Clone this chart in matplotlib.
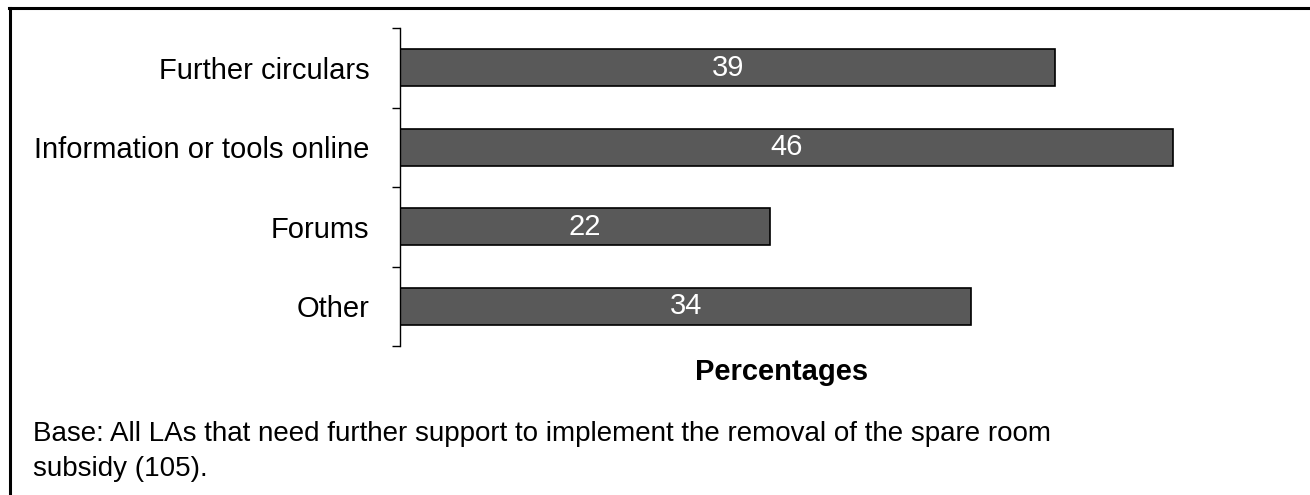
import numpy as np
import matplotlib
matplotlib.use("Agg")
import matplotlib.pyplot as plt
from matplotlib.lines import Line2D

plt.rcParams['font.family'] = ['Liberation Sans', 'DejaVu Sans']

# data
categories = ['Further circulars', 'Information or tools online', 'Forums', 'Other']
values = [39, 46, 22, 34]
footnote = ['Base: All LAs that need further support to implement the removal of the spare room',
            'subsidy (105).']

W, H = 1310, 495
fig = plt.figure(figsize=(W / 100, H / 100), dpi=100)

# axes placed in pixel terms
left, right_x, top, bottom = 400, 400 + 50 * 16.8, 28, 346
ax = fig.add_axes([left / W, 1 - bottom / H, (right_x - left) / W, (bottom - top) / H])

y = np.arange(len(categories))
ax.barh(y, values, height=0.465, color='#595959', edgecolor='black', linewidth=1.2)
for yi, v in zip(y, values):
    ax.text(v / 2, yi, str(v), ha='center', va='center', color='white', fontsize=21)

ax.set_ylim(len(categories) - 0.5, -0.5)
ax.set_xlim(0, 50)
ax.set_yticks(y)
ax.set_yticklabels(categories, fontsize=21)
ax.tick_params(axis='y', which='major', length=0, pad=22)
ax.set_yticks(np.arange(len(categories) + 1) - 0.5, minor=True)
ax.tick_params(axis='y', which='minor', length=6, width=1, direction='out')

for s in ['top', 'right', 'bottom']:
    ax.spines[s].set_visible(False)
ax.spines['left'].set_linewidth(1)
ax.set_xticks([])

fig.text(782 / W, 1 - 372 / H, 'Percentages', ha='center', va='center',
         fontsize=21, fontweight='bold')
for i, line in enumerate(footnote):
    fig.text(33 / W, 1 - (441 + 35 * i) / H, line, ha='left', va='baseline', fontsize=20)

# frame lines at top and left
fig.add_artist(Line2D([9 / W, 1], [1 - 8 / H, 1 - 8 / H], transform=fig.transFigure,
                      color='black', linewidth=2.2))
fig.add_artist(Line2D([10 / W, 10 / W], [0, 1 - 8 / H], transform=fig.transFigure,
                      color='black', linewidth=2.2))

fig.savefig('out.png', dpi=100)
